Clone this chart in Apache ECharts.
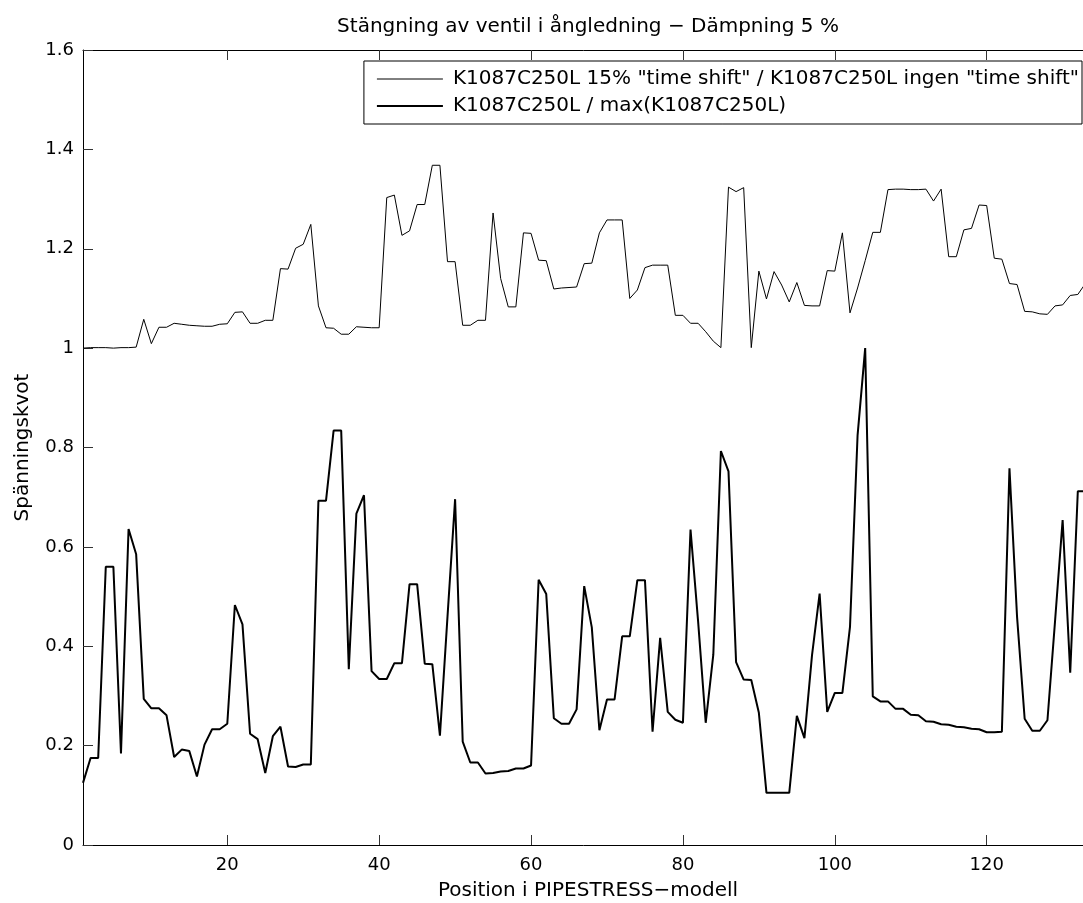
<!DOCTYPE html>
<html>
<head>
<meta charset="utf-8">
<title>Stängning av ventil i ångledning</title>
<script src="https://cdn.jsdelivr.net/npm/echarts@6/dist/echarts.min.js"></script>
<style>
  html, body { margin: 0; padding: 0; background: #fff; }
  #chart { width: 1083px; height: 903px; }
</style>
</head>
<body>
<div id="chart"></div>
<script>
// Stress ratio along the PIPESTRESS model, positions 1..134
const seriesNames = [
  'K1087C250L 15% "time shift" / K1087C250L ingen "time shift"',
  'K1087C250L / max(K1087C250L)'
];

// Ratio: 15% time shift vs. no time shift
const ratioTimeShift = [
  1.000, 1.001, 1.001, 1.001, 1.000, 1.001, 1.001, 1.002, 1.058, 1.009,
  1.042, 1.042, 1.050, 1.048, 1.046, 1.045, 1.044, 1.044, 1.048, 1.049,
  1.072, 1.073, 1.050, 1.050, 1.056, 1.056, 1.160, 1.159, 1.201, 1.209,
  1.249, 1.085, 1.041, 1.040, 1.028, 1.028, 1.043, 1.042, 1.041, 1.041,
  1.303, 1.308, 1.227, 1.236, 1.289, 1.289, 1.368, 1.368, 1.174, 1.174,
  1.046, 1.046, 1.056, 1.056, 1.272, 1.140, 1.083, 1.083, 1.232, 1.231,
  1.177, 1.176, 1.119, 1.121, 1.122, 1.123, 1.170, 1.171, 1.232, 1.258,
  1.258, 1.258, 1.100, 1.117, 1.162, 1.167, 1.167, 1.167, 1.066, 1.066,
  1.050, 1.050, 1.033, 1.014, 1.001, 1.324, 1.315, 1.323, 1.001, 1.155,
  1.099, 1.154, 1.127, 1.093, 1.132, 1.086, 1.085, 1.085, 1.156, 1.155,
  1.232, 1.071, 1.121, 1.176, 1.233, 1.233, 1.319, 1.320, 1.320, 1.319,
  1.319, 1.320, 1.296, 1.320, 1.184, 1.184, 1.238, 1.241, 1.288, 1.287,
  1.181, 1.179, 1.130, 1.128, 1.074, 1.073, 1.069, 1.068, 1.085, 1.087,
  1.106, 1.108, 1.130, 1.150
];

// Stress normalised by its maximum
const ratioToMax = [
  0.125, 0.175, 0.175, 0.560, 0.560, 0.184, 0.636, 0.585, 0.294, 0.275,
  0.275, 0.261, 0.177, 0.192, 0.189, 0.138, 0.202, 0.233, 0.233, 0.244,
  0.483, 0.444, 0.224, 0.213, 0.145, 0.219, 0.238, 0.158, 0.157, 0.162,
  0.162, 0.693, 0.693, 0.834, 0.834, 0.354, 0.667, 0.704, 0.350, 0.334,
  0.334, 0.366, 0.366, 0.525, 0.525, 0.365, 0.364, 0.220, 0.460, 0.696,
  0.208, 0.166, 0.166, 0.144, 0.145, 0.148, 0.149, 0.154, 0.154, 0.160,
  0.534, 0.505, 0.255, 0.244, 0.244, 0.273, 0.521, 0.438, 0.231, 0.293,
  0.293, 0.420, 0.420, 0.533, 0.533, 0.228, 0.417, 0.268, 0.252, 0.246,
  0.635, 0.450, 0.246, 0.383, 0.793, 0.752, 0.368, 0.333, 0.332, 0.266,
  0.105, 0.105, 0.105, 0.105, 0.260, 0.215, 0.382, 0.506, 0.268, 0.306,
  0.306, 0.439, 0.825, 1.000, 0.299, 0.289, 0.289, 0.274, 0.274, 0.262,
  0.261, 0.249, 0.248, 0.243, 0.242, 0.238, 0.237, 0.234, 0.233, 0.227,
  0.227, 0.228, 0.758, 0.459, 0.254, 0.230, 0.230, 0.251, 0.450, 0.654,
  0.347, 0.712, 0.712, 0.712
];

const xTicks = [20, 40, 60, 80, 100, 120];
const xMin = 1;
const xMax = 134;

const lineWidths = [1, 2];

const FONT = 'DejaVu Sans';

function withPositions(values) {
  return values.map((v, i) => [xMin + i, v]);
}

const chart = echarts.init(document.getElementById('chart'), null, { renderer: 'canvas' });

const axisLine = { show: true, onZero: false, lineStyle: { color: '#000', width: 1 } };
const tickStyle = { color: '#333', width: 1 };

chart.setOption({
  animation: false,
  backgroundColor: '#fff',
  title: {
    text: 'Stängning av ventil i ångledning − Dämpning 5 %',
    left: 588,
    top: 17,
    textAlign: 'center',
    padding: 0,
    textStyle: { fontFamily: FONT, fontSize: 20, fontWeight: 'normal', color: '#000' }
  },
  grid: {
    left: 83,
    top: 50,
    right: -10,
    bottom: 58,
    containLabel: false,
    outerBoundsMode: 'none'
  },
  legend: {
    orient: 'vertical',
    right: 1,
    top: 61,
    padding: [8, 3, 8, 12],
    itemGap: 7,
    itemWidth: 66,
    itemHeight: 14,
    backgroundColor: '#fff',
    borderColor: '#000',
    borderWidth: 1,
    borderRadius: 0,
    selectedMode: false,
    itemStyle: { opacity: 0 },
    textStyle: { fontFamily: FONT, fontSize: 20, color: '#000', padding: [0, 0, 0, 5] },
    data: seriesNames.map((name, i) => ({
      name: name,
      lineStyle: { color: '#000', width: lineWidths[i] }
    }))
  },
  xAxis: [
    {
      type: 'value',
      min: xMin,
      max: xMax,
      position: 'bottom',
      name: 'Position i PIPESTRESS−modell',
      nameLocation: 'middle',
      nameGap: 36,
      nameTextStyle: { fontFamily: FONT, fontSize: 20, color: '#000' },
      axisLine: axisLine,
      axisTick: { show: true, inside: true, length: 10, lineStyle: tickStyle, customValues: xTicks },
      axisLabel: { show: true, margin: 11, fontFamily: FONT, fontSize: 18, color: '#000', customValues: xTicks },
      splitLine: { show: false }
    },
    {
      type: 'value',
      min: xMin,
      max: xMax,
      position: 'top',
      axisLine: axisLine,
      axisTick: { show: true, inside: true, length: 10, lineStyle: tickStyle, customValues: xTicks },
      axisLabel: { show: false },
      splitLine: { show: false }
    }
  ],
  yAxis: [
    {
      type: 'value',
      min: 0,
      max: 1.6,
      interval: 0.2,
      position: 'left',
      name: 'Spänningskvot',
      nameLocation: 'middle',
      nameGap: 50,
      nameTextStyle: { fontFamily: FONT, fontSize: 20, color: '#000' },
      axisLine: axisLine,
      axisTick: { show: true, inside: true, length: 10, lineStyle: tickStyle },
      axisLabel: { show: true, margin: 9, fontFamily: FONT, fontSize: 18, color: '#000' },
      splitLine: { show: false }
    }
  ],
  series: [
    {
      name: seriesNames[0],
      type: 'line',
      xAxisIndex: 0,
      yAxisIndex: 0,
      data: withPositions(ratioTimeShift),
      symbol: 'none',
      showSymbol: false,
      color: '#000',
      lineStyle: { color: '#000', width: lineWidths[0] }
    },
    {
      name: seriesNames[1],
      type: 'line',
      xAxisIndex: 0,
      yAxisIndex: 0,
      data: withPositions(ratioToMax),
      symbol: 'none',
      showSymbol: false,
      color: '#000',
      lineStyle: { color: '#000', width: lineWidths[1] }
    }
  ]
});
</script>
</body>
</html>
